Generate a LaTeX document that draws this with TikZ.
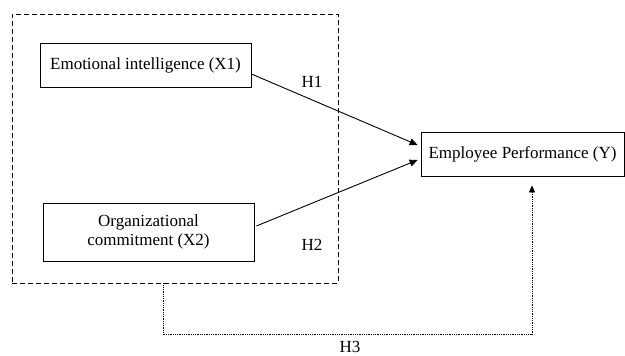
\documentclass[tikz,border=0pt]{standalone}
\usepackage{fontspec}
\setmainfont{Liberation Serif}
\usetikzlibrary{arrows.meta}

\tikzset{
  varbox/.style={draw, line width=0.8pt, align=center, inner sep=0pt,
    font=\fontsize{17}{19.5}\selectfont},
  hyp/.style={font=\fontsize{17}{19.5}\selectfont},
  solidarrow/.style={-{Triangle[length=8pt,width=7pt]}, line width=0.9pt},
  dotarrow/.style={-{Triangle[length=7pt,width=6pt]}, line width=0.8pt, densely dotted},
}

\begin{document}
\begin{tikzpicture}[x=1pt,y=-1pt]
    \useasboundingbox (0,0) rectangle (625,356);

    % variable boxes
    \node[varbox, minimum width=211pt, minimum height=44pt] (ei) at (145.5,65) {Emotional intelligence (X1)};
    \node[varbox, minimum width=211pt, minimum height=58pt] (oc) at (148.5,232) {Organizational\\commitment (X2)};
    \node[varbox, minimum width=203pt, minimum height=44pt] (ep) at (522.5,154) {Employee Performance (Y)};

    % dashed group round X1 and X2
    \node[draw, line width=0.8pt, dash pattern=on 5pt off 3pt, minimum width=326pt, minimum height=269pt, inner sep=0pt] (grp) at (175,148.5) {};

    % hypotheses
    \draw[solidarrow] ([yshift=-9pt]ei.east) -- ([xshift=-3pt,yshift=9pt]ep.west);
    \draw[solidarrow] ([xshift=2pt,yshift=6pt]oc.east) -- ([xshift=-3pt,yshift=-6pt]ep.west);
    \draw[dotarrow] ([xshift=-12pt]grp.south) -- ++(0,51) -| ([xshift=9.5pt,yshift=-9pt]ep.south);

    \node[hyp] (h1) at (312,82) {H1};
    \node[hyp] (h2) at (312,245) {H2};
    \node[hyp] (h3) at (350,346.5) {H3};
\end{tikzpicture}
\end{document}
